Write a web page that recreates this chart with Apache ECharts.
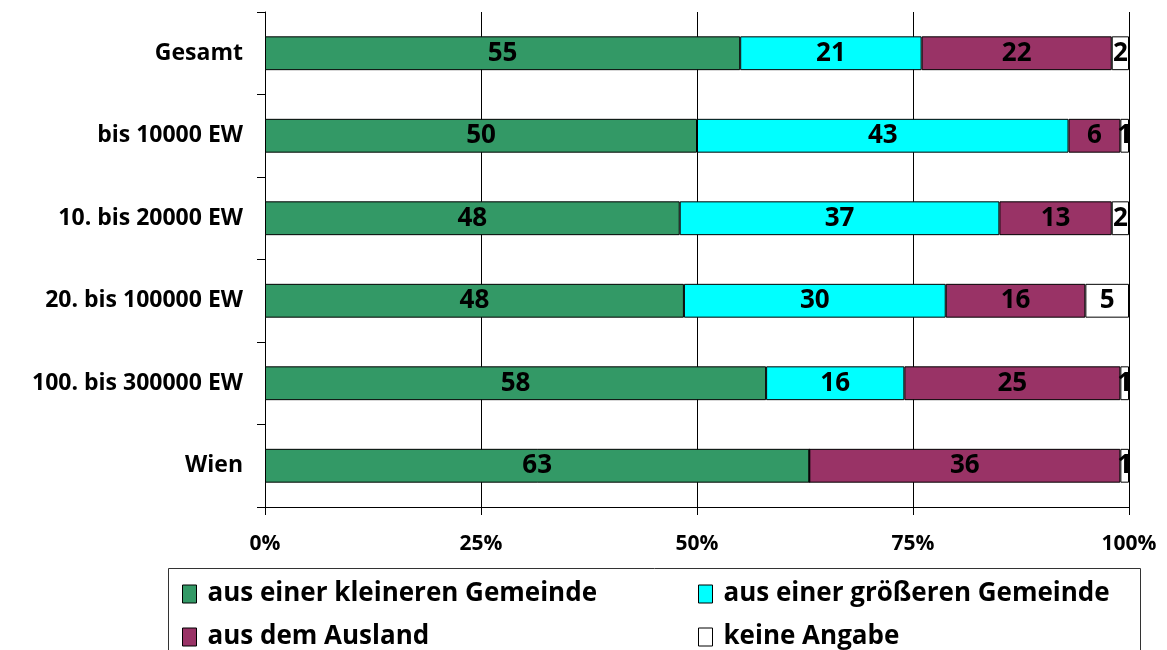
<!DOCTYPE html>
<html>
<head>
<meta charset="utf-8">
<script src="https://cdn.jsdelivr.net/npm/echarts@6/dist/echarts.min.js"></script>
<style>
  html, body { margin: 0; padding: 0; background: #fff; }
  #main { width: 1167px; height: 650px; }
</style>
</head>
<body>
<div id="main"></div>
<script>
// Kategorien (von oben nach unten)
var categories = ['Gesamt', 'bis 10000 EW', '10. bis 20000 EW', '20. bis 100000 EW', '100. bis 300000 EW', 'Wien'];
var seriesNames = ['aus einer kleineren Gemeinde', 'aus einer größeren Gemeinde', 'aus dem Ausland', 'keine Angabe'];
// Werte in Prozent, wie beschriftet
var kleiner = [55, 50, 48, 48, 58, 63];
var groesser = [21, 43, 37, 30, 16, 0];
var ausland = [22, 6, 13, 16, 25, 36];
var keineAngabe = [2, 1, 2, 5, 1, 1];
var xTicks = ['0%', '25%', '50%', '75%', '100%'];

var colors = ['#339966', '#00ffff', '#993366', '#ffffff'];
var raw = [kleiner, groesser, ausland, keineAngabe];
var fontFam = '"Open Sans", "Noto Sans", sans-serif';

// 100%-gestapelt: auf Zeilensumme normieren
var sums = categories.map(function (c, i) {
    return kleiner[i] + groesser[i] + ausland[i] + keineAngabe[i];
});

function makeSeries() {
    var serie = [];
    for (var s = 0; s < raw.length; s++) {
        var vals = raw[s];
        serie.push({
            name: seriesNames[s],
            type: 'bar',
            stack: 'all',
            barWidth: '41%',
            itemStyle: { color: colors[s], borderColor: '#000', borderWidth: 1 },
            label: {
                show: true,
                position: 'inside',
                color: '#000',
                fontFamily: fontFam,
                fontWeight: 'bold',
                fontSize: 26,
                formatter: function (p) {
                    return p.data.raw ? p.data.raw : '';
                }
            },
            data: vals.map(function (v, i) {
                return { value: v / sums[i] * 100, raw: v };
            })
        });
    }
    return serie;
}

function makeLegend(idx, left, top) {
    return {
        data: [seriesNames[idx]],
        left: left,
        top: top,
        padding: 0,
        itemWidth: 14,
        itemHeight: 18,
        icon: 'rect',
        itemStyle: { borderColor: '#000', borderWidth: 1 },
        textStyle: {
            fontFamily: fontFam, fontWeight: 'bold', fontSize: 26, color: '#000',
            lineHeight: 30, padding: [0, 0, 0, 6]
        },
        selectedMode: false
    };
}

var myChart = echarts.init(document.getElementById('main'));
var option = {
    animation: false,
    grid: { left: 265, right: 38, top: 12, bottom: 143 },
    xAxis: {
        type: 'value',
        min: 0,
        max: 100,
        interval: 25,
        axisLine: { show: true, lineStyle: { color: '#000' } },
        axisTick: { show: true, length: 8, lineStyle: { color: '#000' } },
        splitLine: { show: true, lineStyle: { color: '#000', width: 1 } },
        axisLabel: {
            margin: 27,
            color: '#000',
            fontFamily: fontFam,
            fontWeight: 'bold',
            fontSize: 21,
            formatter: function (v) { return xTicks[v / 25]; }
        }
    },
    yAxis: {
        type: 'category',
        inverse: true,
        data: categories,
        axisLine: { show: true, lineStyle: { color: '#000' } },
        axisTick: { show: true, length: 8, lineStyle: { color: '#000' } },
        axisLabel: {
            margin: 22,
            color: '#000',
            fontFamily: fontFam,
            fontWeight: 'bold',
            fontSize: 23
        }
    },
    legend: [
        makeLegend(0, 182, 579),
        makeLegend(1, 698, 579),
        makeLegend(2, 182, 622),
        makeLegend(3, 698, 622)
    ],
    graphic: [{
        type: 'rect',
        shape: { x: 168.5, y: 568.5, width: 972, height: 100 },
        style: { fill: 'none', stroke: '#333', lineWidth: 1 },
        z: -1
    }],
    series: makeSeries()
};
myChart.setOption(option);
</script>
</body>
</html>
